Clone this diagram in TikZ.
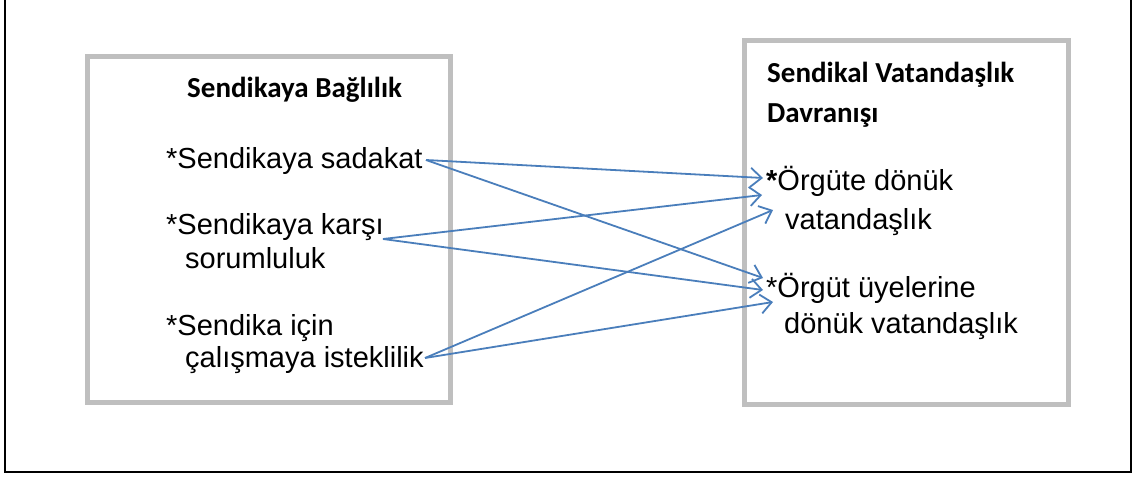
\documentclass[tikz,border=0pt]{standalone}
\usepackage{fontspec}
\setmainfont{Liberation Sans}
\newfontfamily\calfont{Carlito}
\usetikzlibrary{arrows.meta}
\definecolor{boxgray}{HTML}{BFBFBF}
\definecolor{arrowblue}{HTML}{4A7EBB}
\begin{document}
\begin{tikzpicture}[x=1pt,y=-1pt,
  gbox/.style={draw=boxgray, line width=5pt, inner sep=0pt},
  body/.style={anchor=base west, inner sep=0pt, font=\fontsize{29pt}{34pt}\selectfont},
  title/.style={anchor=base west, inner sep=0pt, font=\fontsize{29pt}{34pt}\selectfont\calfont\bfseries},
  link/.style={draw=arrowblue, line width=1.8pt, -{Straight Barb[length=11pt,width=19pt]}}]
\useasboundingbox (0,0) rectangle (1134,478);
% outer frame (open at top)
\draw[line width=2pt] (5,0) -- (5,472) -- (1131,472) -- (1131,0);
% boxes
\node[gbox, minimum width=363pt, minimum height=345.5pt] (L) at (269,229.75) {};
\node[gbox, minimum width=323.5pt, minimum height=363.5pt] (R) at (906.25,222.75) {};
% left texts
\node[title] (lt) at (187,98) {Sendikaya Bağlılık};
\node[body] (s1) at (166,169) {*Sendikaya sadakat};
\node[body] (s2) at (166,235) {*Sendikaya karşı};
\node[body] (s2b) at (185,269) {sorumluluk};
\node[body] (s3) at (166,335) {*Sendika için};
\node[body] (s3b) at (185,367) {çalışmaya isteklilik};
% right texts
\node[title] (rt) at (767,83) {Sendikal Vatandaşlık};
\node[title] (rt2) at (767,123) {Davranışı};
\node[body] (o1) at (766,191) {\textbf{*}Örgüte dönük};
\node[body] (o1b) at (785,230) {vatandaşlık};
\node[body] (o2) at (766,297) {*Örgüt üyelerine};
\node[body] (o2b) at (784,333) {dönük vatandaşlık};
% arrow start and end points
\coordinate (p1) at (426,160);
\coordinate (p2) at (383,239);
\coordinate (p3) at (425,358);
\coordinate (a1) at (763,178);
\coordinate (a2) at (762,195);
\coordinate (a3) at (773,210);
\coordinate (b1) at (763,278);
\coordinate (b2) at (763,290);
\coordinate (b3) at (773,302);
% connectors
\draw[link] (p1) -- (a1);
\draw[link] (p1) -- (b1);
\draw[link] (p2) -- (a2);
\draw[link] (p2) -- (b2);
\draw[link] (p3) -- (a3);
\draw[link] (p3) -- (b3);
\end{tikzpicture}
\end{document}
